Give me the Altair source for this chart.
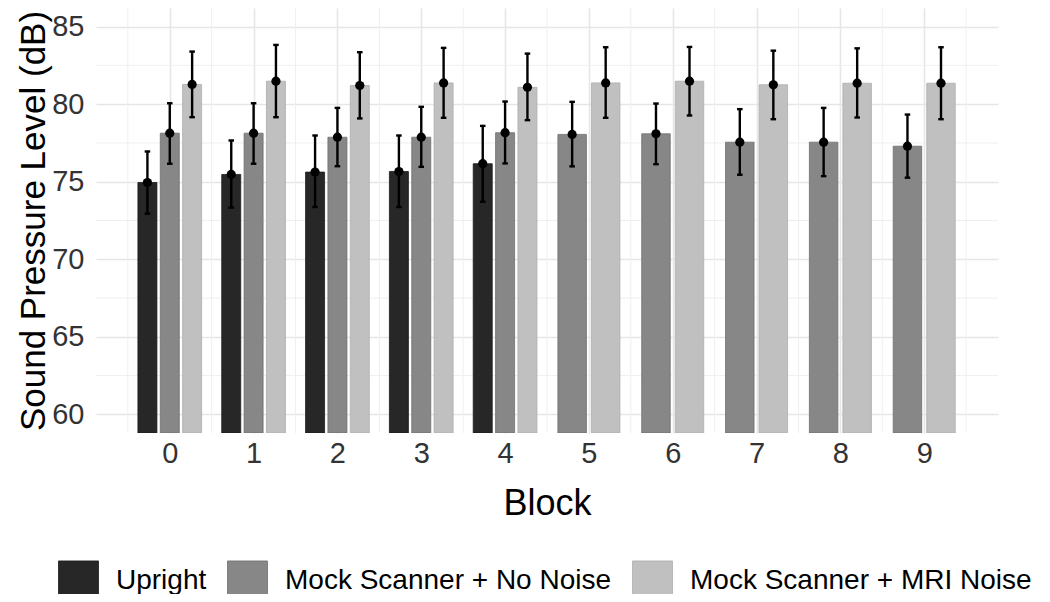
import altair as alt
import pandas as pd
import numpy as np

blocks = list(range(10))
conditions = ["Upright", "Mock Scanner + No Noise", "Mock Scanner + MRI Noise"]
colors = ["#272727", "#878787", "#C0C0C0"]
strokes = ["#1a1a1a", "#6e6e6e", "#adadad"]

# means (None where the condition was not run)
upright_mean = [74.95, 75.47, 75.62, 75.66, 76.16, None, None, None, None, None]
upright_lo = [72.94, 73.33, 73.37, 73.37, 73.71, None, None, None, None, None]
upright_hi = [76.95, 77.66, 77.98, 77.98, 78.60, None, None, None, None, None]

nonoise_mean = [78.13, 78.13, 77.87, 77.87, 78.16, 78.05, 78.09, 77.55, 77.55, 77.29]
nonoise_lo = [76.16, 76.16, 76.00, 75.96, 76.18, 75.99, 76.13, 75.45, 75.36, 75.26]
nonoise_hi = [80.06, 80.06, 79.76, 79.83, 80.17, 80.15, 80.04, 79.68, 79.76, 79.33]

mri_mean = [81.27, 81.48, 81.20, 81.37, 81.09, 81.37, 81.48, 81.25, 81.35, 81.35]
mri_lo = [79.16, 79.16, 79.08, 79.12, 78.97, 79.12, 79.27, 79.03, 79.14, 79.03]
mri_hi = [83.39, 83.82, 83.35, 83.63, 83.26, 83.67, 83.69, 83.45, 83.60, 83.67]

y_ticks = [60, 65, 70, 75, 80, 85]
y_minor = [62.5, 67.5, 72.5, 77.5, 82.5]
x_minor = [b - 0.5 for b in blocks] + [9.5]

series = [
    (conditions[0], upright_mean, upright_lo, upright_hi),
    (conditions[1], nonoise_mean, nonoise_lo, nonoise_hi),
    (conditions[2], mri_mean, mri_lo, mri_hi),
]

DODGE = 0.8
BARFRAC = 0.85
rows = []
for b in blocks:
    present = [s for s in series if s[1][b] is not None]
    n = len(present)
    slot = DODGE / n
    for i, (name, m, lo, hi) in enumerate(present):
        c = b - DODGE / 2 + slot * (i + 0.5)
        rows.append({
            "block": b, "condition": name, "mean": m[b], "lo": lo[b], "hi": hi[b],
            "xc": c, "x0": c - slot * BARFRAC / 2, "x1": c + slot * BARFRAC / 2,
            "c0": c - 0.033, "c1": c + 0.033,
        })
df = pd.DataFrame(rows)

YMIN, YMAX = 58.8, 86.2
XMIN, XMAX = -0.88, 9.88
xscale = alt.Scale(domain=[XMIN, XMAX], nice=False, zero=False)
yscale = alt.Scale(domain=[YMIN, YMAX], nice=False, zero=False)

FONT = "Liberation Sans"

base = alt.Chart(df)

xgrid_minor = alt.Chart(pd.DataFrame({"v": x_minor})).mark_rule(
    color="#EFEFEF", strokeWidth=1
).encode(x=alt.X("v:Q", scale=xscale))
ygrid_minor = alt.Chart(pd.DataFrame({"v": y_minor})).mark_rule(
    color="#EFEFEF", strokeWidth=1
).encode(y=alt.Y("v:Q", scale=yscale))

bars = base.mark_bar(strokeWidth=0.8, clip=True).encode(
    x=alt.X("x0:Q", scale=xscale,
            axis=alt.Axis(values=blocks, title="Block", grid=True, gridColor="#E6E6E6",
                          gridWidth=1.6, domain=False, ticks=False, labelFontSize=29,
                          labelColor="#333333", labelFont=FONT, labelPadding=6,
                          titleFont=FONT, titleFontSize=36, titleFontWeight="normal",
                          titleColor="#000000", titlePadding=18, format="d")),
    x2="x1:Q",
    y=alt.Y("mean:Q", scale=yscale,
            axis=alt.Axis(values=y_ticks, title="Sound Pressure Level (dB)", grid=True,
                          gridColor="#E6E6E6", gridWidth=1.6, domain=False, ticks=False,
                          labelFontSize=29, labelColor="#333333", labelFont=FONT,
                          labelPadding=12, titleFont=FONT, titleFontSize=35,
                          titleFontWeight="normal", titleColor="#000000", titlePadding=0)),
    y2=alt.datum(YMIN),
    fill=alt.Fill("condition:N", scale=alt.Scale(domain=conditions, range=colors),
                  legend=alt.Legend(title=None, orient="none", direction="horizontal",
                                    legendX=-38, legendY=552, symbolType="square",
                                    symbolSize=1600, symbolStrokeWidth=0.8,
                                    labelFontSize=28, labelFont=FONT, labelColor="#000000",
                                    labelOffset=17, columnPadding=18, labelLimit=1000,
                                    symbolOpacity=1)),
    stroke=alt.Stroke("condition:N", scale=alt.Scale(domain=conditions, range=strokes),
                      legend=None),
)

err = base.mark_rule(color="#000000", strokeWidth=2.4).encode(
    x=alt.X("xc:Q", scale=xscale), y=alt.Y("lo:Q", scale=yscale), y2="hi:Q"
)
cap_lo = base.mark_rule(color="#000000", strokeWidth=2.4).encode(
    x=alt.X("c0:Q", scale=xscale), x2="c1:Q", y=alt.Y("lo:Q", scale=yscale)
)
cap_hi = base.mark_rule(color="#000000", strokeWidth=2.4).encode(
    x=alt.X("c0:Q", scale=xscale), x2="c1:Q", y=alt.Y("hi:Q", scale=yscale)
)
pts = base.mark_circle(color="#000000", opacity=1, size=85).encode(
    x=alt.X("xc:Q", scale=xscale), y=alt.Y("mean:Q", scale=yscale)
)

chart = alt.layer(xgrid_minor, ygrid_minor, bars, err, cap_lo, cap_hi, pts).properties(
    width=902, height=425,
    autosize=alt.AutoSizeParams(type="none"),
    padding={"left": 88, "top": 0, "right": 44, "bottom": 161},
).configure_view(stroke=None).configure_legend(
    symbolStrokeColor="#1a1a1a"
)

chart.save("out.html", embed_options={"renderer": "svg", "actions": False})
